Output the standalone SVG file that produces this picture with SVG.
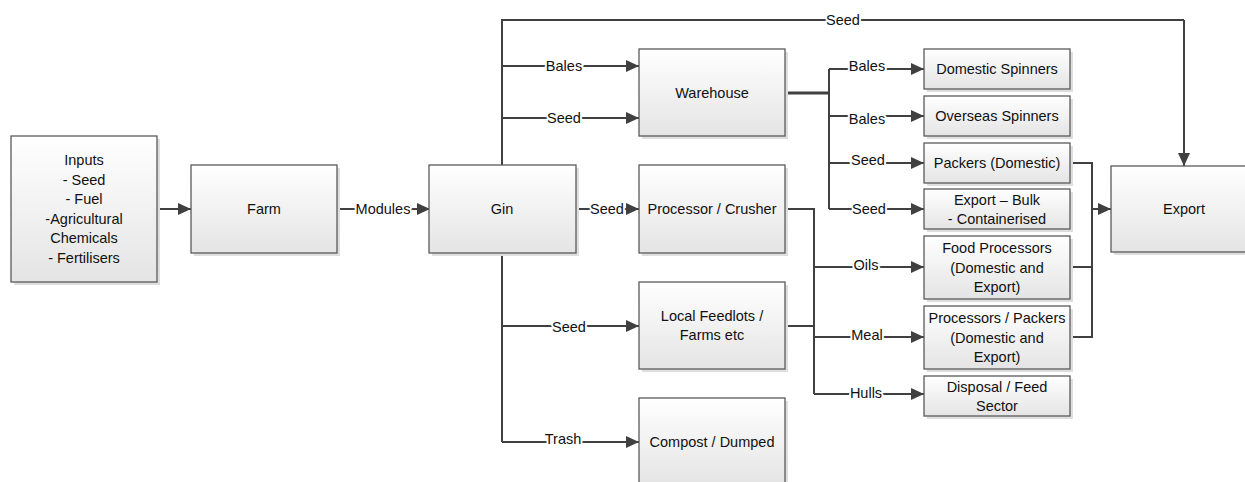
<svg xmlns="http://www.w3.org/2000/svg" width="1245" height="482" viewBox="0 0 1245 482">
<defs>
<linearGradient id="g" x1="0" y1="0" x2="0" y2="1">
<stop offset="0" stop-color="#ffffff"/>
<stop offset="1" stop-color="#e4e4e4"/>
</linearGradient>
<marker id="ah" viewBox="0 0 13 12" refX="13" refY="6" markerWidth="13" markerHeight="12" markerUnits="userSpaceOnUse" orient="auto">
<path d="M0,0 L13,6 L0,12 Z" fill="#404040"/>
</marker>
<style>
.box{fill:url(#g);stroke:#5a5a5a;stroke-width:1.3}
.sh{fill:#dedede}
.t{font-family:"Liberation Sans",Arial,sans-serif;font-size:14.5px;fill:#111111;text-anchor:middle;dominant-baseline:central}
.c{fill:none;stroke:#404040;stroke-width:2}
.a{marker-end:url(#ah)}
.lb{font-family:"Liberation Sans",Arial,sans-serif;font-size:14.5px;fill:#111111;text-anchor:middle;dominant-baseline:central;stroke:#ffffff;stroke-width:4;paint-order:stroke;stroke-linejoin:round}
</style>
</defs>
<rect width="1245" height="482" fill="#ffffff"/>

<g id="connectors">
<path class="c a" d="M157,209 H191"/>
<path class="c a" d="M337,209 H430"/>
<path class="c" d="M502,165 V20 H1184"/>
<path class="c a" d="M1184,20 V166"/>
<path class="c a" d="M502,66 H639"/>
<path class="c a" d="M502,118 H639"/>
<path class="c a" d="M576,209 H639"/>
<path class="c" d="M502,253 V442"/>
<path class="c a" d="M502,326 H639"/>
<path class="c a" d="M502,442 H639"/>
<path class="c" style="stroke-width:3" d="M785,93 H829"/>
<path class="c" d="M829,69 V209"/>
<path class="c a" d="M829,69 H924"/>
<path class="c a" d="M829,116 H924"/>
<path class="c a" d="M829,163 H924"/>
<path class="c a" d="M829,209 H924"/>
<path class="c" d="M785,209 H814 V394"/>
<path class="c" d="M785,326 H814"/>
<path class="c a" d="M814,267 H924"/>
<path class="c a" d="M814,337 H924"/>
<path class="c a" d="M814,394 H924"/>
<path class="c" d="M1070,163 H1092 V337 H1070"/>
<path class="c" d="M1070,267 H1092"/>
<path class="c a" d="M1092,209 H1111"/>
<text class="lb" x="383" y="209">Modules</text>
<text class="lb" x="843" y="20">Seed</text>
<text class="lb" x="564" y="66">Bales</text>
<text class="lb" x="564" y="118">Seed</text>
<text class="lb" x="607" y="209">Seed</text>
<text class="lb" x="569" y="327">Seed</text>
<text class="lb" x="563" y="439">Trash</text>
<text class="lb" x="867" y="66">Bales</text>
<text class="lb" x="867" y="119">Bales</text>
<text class="lb" x="868" y="160">Seed</text>
<text class="lb" x="869" y="209">Seed</text>
<text class="lb" x="866" y="265">Oils</text>
<text class="lb" x="867" y="335">Meal</text>
<text class="lb" x="866" y="393">Hulls</text>
</g>

<g id="inputs">
<rect class="sh" x="14" y="139" width="146" height="146"/>
<rect class="box" x="11" y="136" width="146" height="146"/>
<text class="t" x="84" y="160">Inputs</text>
<text class="t" x="84" y="179.5">- Seed</text>
<text class="t" x="84" y="199">- Fuel</text>
<text class="t" x="84" y="218.5">-Agricultural</text>
<text class="t" x="84" y="238">Chemicals</text>
<text class="t" x="84" y="257.5">- Fertilisers</text>
</g>
<g id="farm">
<rect class="sh" x="194" y="168" width="146" height="88"/>
<rect class="box" x="191" y="165" width="146" height="88"/>
<text class="t" x="264" y="209">Farm</text>
</g>
<g id="gin">
<rect class="sh" x="432" y="168" width="147" height="88"/>
<rect class="box" x="429" y="165" width="147" height="88"/>
<text class="t" x="502" y="209">Gin</text>
</g>
<g id="warehouse">
<rect class="sh" x="642" y="52" width="146" height="87"/>
<rect class="box" x="639" y="49" width="146" height="87"/>
<text class="t" x="712" y="93">Warehouse</text>
</g>
<g id="processor">
<rect class="sh" x="642" y="168" width="146" height="88"/>
<rect class="box" x="639" y="165" width="146" height="88"/>
<text class="t" x="712" y="209">Processor / Crusher</text>
</g>
<g id="feedlots">
<rect class="sh" x="642" y="285" width="146" height="87"/>
<rect class="box" x="639" y="282" width="146" height="87"/>
<text class="t" x="712" y="316">Local Feedlots /</text>
<text class="t" x="712" y="335">Farms etc</text>
</g>
<g id="compost">
<rect class="sh" x="642" y="401" width="146" height="88"/>
<rect class="box" x="639" y="398" width="146" height="88"/>
<text class="t" x="712" y="442">Compost / Dumped</text>
</g>
<g id="domestic-spinners">
<rect class="sh" x="927" y="52" width="146" height="40"/>
<rect class="box" x="924" y="49" width="146" height="40"/>
<text class="t" x="997" y="69">Domestic Spinners</text>
</g>
<g id="overseas-spinners">
<rect class="sh" x="927" y="99" width="146" height="40"/>
<rect class="box" x="924" y="96" width="146" height="40"/>
<text class="t" x="997" y="116">Overseas Spinners</text>
</g>
<g id="packers">
<rect class="sh" x="927" y="146" width="146" height="40"/>
<rect class="box" x="924" y="143" width="146" height="40"/>
<text class="t" x="997" y="163">Packers (Domestic)</text>
</g>
<g id="export-bulk">
<rect class="sh" x="927" y="192" width="146" height="40"/>
<rect class="box" x="924" y="189" width="146" height="40"/>
<text class="t" x="997" y="199.5">Export – Bulk</text>
<text class="t" x="997" y="219">- Containerised</text>
</g>
<g id="food-processors">
<rect class="sh" x="927" y="239" width="146" height="63"/>
<rect class="box" x="924" y="236" width="146" height="63"/>
<text class="t" x="997" y="248">Food Processors</text>
<text class="t" x="997" y="267.5">(Domestic and</text>
<text class="t" x="997" y="287">Export)</text>
</g>
<g id="processors-packers">
<rect class="sh" x="927" y="309" width="146" height="63"/>
<rect class="box" x="924" y="306" width="146" height="63"/>
<text class="t" x="997" y="318">Processors / Packers</text>
<text class="t" x="997" y="337.5">(Domestic and</text>
<text class="t" x="997" y="357">Export)</text>
</g>
<g id="disposal">
<rect class="sh" x="927" y="379" width="146" height="40"/>
<rect class="box" x="924" y="376" width="146" height="40"/>
<text class="t" x="997" y="386.5">Disposal / Feed</text>
<text class="t" x="997" y="406">Sector</text>
</g>
<g id="export">
<rect class="sh" x="1114" y="169" width="146" height="86"/>
<rect class="box" x="1111" y="166" width="146" height="86"/>
<text class="t" x="1184" y="209">Export</text>
</g>
</svg>
